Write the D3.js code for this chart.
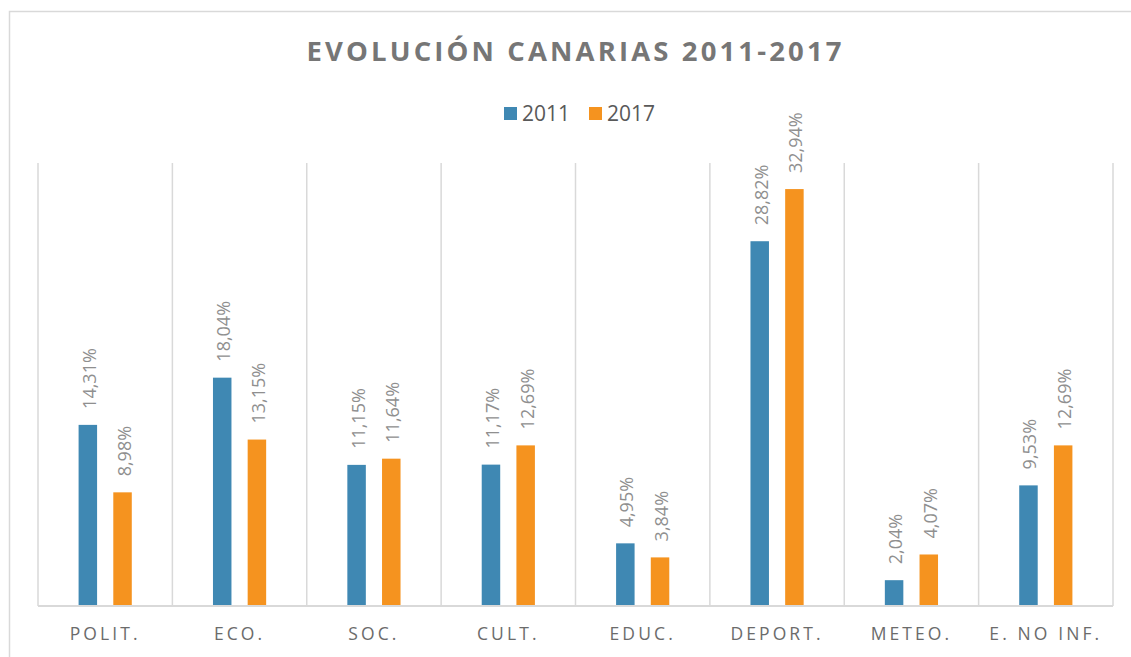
<!DOCTYPE html>
<html><head><meta charset="utf-8">
<script src="https://cdn.jsdelivr.net/npm/d3@7"></script>
<style>
html,body{margin:0;padding:0;background:#fff;}
svg{display:block;}
</style></head>
<body>
<svg id="chart" width="1131" height="657"></svg>
<script>
const title = "EVOLUCIÓN CANARIAS 2011-2017";
const categories = ["POLIT.", "ECO.", "SOC.", "CULT.", "EDUC.", "DEPORT.", "METEO.", "E. NO INF."];
const seriesNames = ["2011", "2017"];
const values2011 = [14.31, 18.04, 11.15, 11.17, 4.95, 28.82, 2.04, 9.53];
const values2017 = [8.98, 13.15, 11.64, 12.69, 3.84, 32.94, 4.07, 12.69];
const colors = ["#3f88b3", "#f5931f"];
const yMax = 35;

const svg = d3.select("#chart");
const W = 1131, H = 657;
const plot = {left: 38, right: 1113, top: 163, bottom: 606};

// chart frame
svg.append("rect").attr("x", 9.5).attr("y", 11.5).attr("width", W).attr("height", H)
  .attr("fill", "#fff").attr("stroke", "#d9d9d9").attr("stroke-width", 1.5);

const x0 = d3.scaleBand().domain(categories).range([plot.left, plot.right]).paddingInner(0).paddingOuter(0);
const x1 = d3.scaleBand().domain(seriesNames).range([0, x0.bandwidth()]).paddingInner(0.467).paddingOuter(1.17);
const y = d3.scaleLinear().domain([0, yMax]).range([plot.bottom, plot.top]);

// vertical gridlines at category boundaries
const bounds = categories.map(c => x0(c)).concat([plot.right]);
svg.append("g").selectAll("line").data(bounds).join("line")
  .attr("x1", d => d).attr("x2", d => d)
  .attr("y1", plot.top).attr("y2", plot.bottom)
  .attr("stroke", "#d9d9d9").attr("stroke-width", 1.5);

const data = categories.map((c, i) => ({cat: c, vals: [
  {s: seriesNames[0], v: values2011[i], col: colors[0]},
  {s: seriesNames[1], v: values2017[i], col: colors[1]}
]}));

const groups = svg.append("g").selectAll("g").data(data).join("g")
  .attr("transform", d => `translate(${x0(d.cat)},0)`);

groups.selectAll("rect").data(d => d.vals).join("rect")
  .attr("x", d => x1(d.s)).attr("width", x1.bandwidth())
  .attr("y", d => y(d.v)).attr("height", d => y(0) - y(d.v))
  .attr("fill", d => d.col);

const fmt = v => v.toFixed(2).replace(".", ",") + "%";
groups.selectAll("text").data(d => d.vals).join("text")
  .attr("transform", d => `translate(${x1(d.s) + x1.bandwidth()/2 + 1},${y(d.v) - 16}) rotate(-90)`)
  .attr("dominant-baseline", "central")
  .attr("text-anchor", "start")
  .attr("font-family", "Open Sans, sans-serif")
  .attr("font-size", 18)
  .attr("fill", "#8f8f8f")
  .text(d => fmt(d.v));

// baseline axis
const xAxis = d3.axisBottom(x0).tickSize(0).tickPadding(0);
const ax = svg.append("g").attr("transform", `translate(0,${plot.bottom})`).call(xAxis);
ax.select(".domain").attr("stroke", "#d9d9d9").attr("stroke-width", 2).attr("d", `M${plot.left},0H${plot.right}`);
ax.selectAll("text")
  .attr("y", 34).attr("dy", 0)
  .attr("font-family", "Open Sans, sans-serif")
  .attr("font-size", 17.5)
  .attr("letter-spacing", "3.1px")
  .attr("fill", "#6b6b6b");

// title
const t = svg.append("text")
  .attr("x", W/2 + 9).attr("y", 61)
  .attr("text-anchor", "middle")
  .attr("font-family", "Open Sans, sans-serif")
  .attr("font-weight", "bold")
  .attr("font-size", 27.5)
  .attr("fill", "#767676")
  .text(title);
const natural = t.node().getComputedTextLength();
const ls = (535 - natural) / (title.length - 1);
t.attr("letter-spacing", ls + "px").attr("x", 574 + ls/2);

// legend
const legend = svg.append("g");
const legX = [504, 589];
seriesNames.forEach((s, i) => {
  legend.append("rect").attr("x", legX[i]).attr("y", 107).attr("width", 13).attr("height", 13).attr("fill", colors[i]);
  legend.append("text").attr("x", legX[i] + 18).attr("y", 120.5)
    .attr("font-family", "Open Sans, sans-serif").attr("font-size", 21)
    .attr("fill", "#595959").text(s);
});
</script>
</body></html>
